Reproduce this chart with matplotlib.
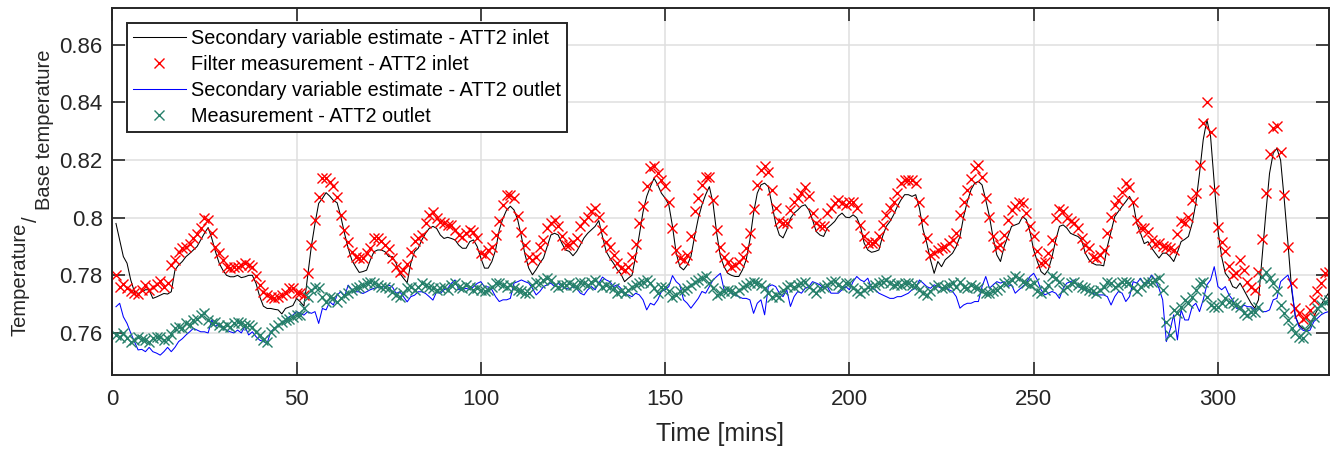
import numpy as np
import matplotlib
matplotlib.use("Agg")
import matplotlib.pyplot as plt

# ---------------------------------------------------------------- data
time_min = np.arange(1, 331)

inlet_meas = [
    0.780, 0.776, 0.777, 0.7755, 0.7745, 0.774, 0.7735, 0.775, 0.7765, 0.775,
    0.776, 0.777, 0.778, 0.776, 0.7775, 0.7836, 0.7853, 0.788, 0.7894, 0.790,
    0.791, 0.7928, 0.7943, 0.7965, 0.7998, 0.7992, 0.7946, 0.7899, 0.7876, 0.7853,
    0.783, 0.7824, 0.7828, 0.783, 0.7836, 0.7842, 0.7836, 0.783, 0.7797, 0.7766,
    0.7743, 0.7731, 0.7726, 0.772, 0.7726, 0.7731, 0.7737, 0.7755, 0.7755, 0.7737,
    0.774, 0.773, 0.7807, 0.7905, 0.7992, 0.8073, 0.8137, 0.8137, 0.8125, 0.811,
    0.8073, 0.8009, 0.7957, 0.7917, 0.788, 0.7865, 0.786, 0.786, 0.7876, 0.7894,
    0.7928, 0.793, 0.792, 0.7905, 0.789, 0.786, 0.783, 0.781, 0.7818, 0.784,
    0.788, 0.792, 0.7928, 0.794, 0.798, 0.8009, 0.802, 0.7998, 0.7986, 0.798,
    0.7975, 0.7975, 0.7957, 0.794, 0.7934, 0.7946, 0.7957, 0.795, 0.7928, 0.7876,
    0.787, 0.7888, 0.790, 0.794, 0.799, 0.8045, 0.808, 0.808, 0.8068, 0.8006,
    0.7952, 0.7906, 0.7865, 0.7854, 0.7865, 0.790, 0.7923, 0.7964, 0.798, 0.7993,
    0.797, 0.7935, 0.7906, 0.7906, 0.7917, 0.793, 0.797, 0.7987, 0.8004, 0.8022,
    0.8033, 0.8004, 0.7958, 0.7917, 0.790, 0.787, 0.7842, 0.7825, 0.782, 0.783,
    0.7865, 0.791, 0.798, 0.804, 0.811, 0.8172, 0.8178, 0.8155, 0.8131, 0.811,
    0.8053, 0.7966, 0.7888, 0.786, 0.7854, 0.787, 0.7935, 0.8022, 0.8068, 0.8114,
    0.8143, 0.8143, 0.8062, 0.7958, 0.790, 0.7865, 0.7848, 0.783, 0.7836, 0.7848,
    0.7865, 0.7894, 0.7946, 0.803, 0.8114, 0.8166, 0.8178, 0.816, 0.8097, 0.8033,
    0.7987, 0.798, 0.798, 0.8027, 0.8056, 0.8068, 0.8085, 0.8108, 0.8074, 0.8016,
    0.798, 0.797, 0.797, 0.8016, 0.8033, 0.805, 0.8062, 0.805, 0.8045, 0.8056,
    0.8056, 0.8033, 0.7975, 0.7935, 0.7912, 0.7912, 0.7917, 0.7935, 0.7975, 0.801,
    0.8033, 0.8056, 0.8085, 0.812, 0.8131, 0.8131, 0.8131, 0.812, 0.8056, 0.7993,
    0.793, 0.787, 0.7877, 0.7888, 0.7894, 0.790, 0.7912, 0.7923, 0.7946, 0.801,
    0.8056, 0.8097, 0.8134, 0.8172, 0.8183, 0.8143, 0.8068, 0.8004, 0.7935, 0.790,
    0.7906, 0.794, 0.7993, 0.8027, 0.804, 0.8056, 0.805, 0.8016, 0.797, 0.7935,
    0.7883, 0.7842, 0.7848, 0.7877, 0.7923, 0.800, 0.803, 0.8022, 0.800, 0.7987,
    0.798, 0.7964, 0.793, 0.7906, 0.7894, 0.7865, 0.786, 0.787, 0.7888, 0.7946,
    0.8002, 0.8045, 0.8062, 0.8091, 0.812, 0.8108, 0.8053, 0.7993, 0.7964, 0.7964,
    0.7952, 0.7923, 0.791, 0.7912, 0.7902, 0.790, 0.7894, 0.7888, 0.7944, 0.7987,
    0.7981, 0.8004, 0.8062, 0.8087, 0.8183, 0.8328, 0.8401, 0.8296, 0.8096, 0.7969,
    0.7917, 0.7885, 0.7831, 0.7801, 0.7807, 0.7853, 0.7819, 0.7778, 0.776, 0.7749,
    0.7813, 0.7925, 0.8085, 0.822, 0.831, 0.8319, 0.8229, 0.8079, 0.790, 0.7772,
    0.7686, 0.7668, 0.7647, 0.7657, 0.768, 0.7715, 0.7744, 0.7772, 0.7807, 0.7813,
]

inlet_est = [
    0.798, 0.7923, 0.7865, 0.7842, 0.7784, 0.7743, 0.7737, 0.7743, 0.775, 0.775,
    0.772, 0.7725, 0.7731, 0.7737, 0.7735, 0.7743, 0.7818, 0.7836, 0.7848, 0.7865,
    0.7876, 0.7888, 0.790, 0.7923, 0.7946, 0.7966, 0.7928, 0.7882, 0.7842, 0.7818,
    0.780, 0.7795, 0.7795, 0.780, 0.7792, 0.7795, 0.780, 0.780, 0.7772, 0.7726,
    0.7693, 0.7685, 0.7685, 0.7682, 0.768, 0.7666, 0.7685, 0.769, 0.7695, 0.772,
    0.7708, 0.7693, 0.7795, 0.790, 0.798, 0.805, 0.8067, 0.8087, 0.8075, 0.806,
    0.8052, 0.8004, 0.7946, 0.7894, 0.7853, 0.783, 0.781, 0.7813, 0.7818, 0.7853,
    0.7882, 0.7888, 0.7888, 0.7882, 0.7865, 0.7865, 0.7842, 0.7807, 0.779, 0.7774,
    0.7842, 0.7882, 0.7894, 0.7923, 0.7946, 0.7963, 0.797, 0.7963, 0.794, 0.7928,
    0.7932, 0.7928, 0.7923, 0.7905, 0.7894, 0.7894, 0.7917, 0.7923, 0.790, 0.786,
    0.7825, 0.7825, 0.7848, 0.7888, 0.7958, 0.7998, 0.8027, 0.804, 0.8027, 0.7993,
    0.7935, 0.7871, 0.7825, 0.7802, 0.782, 0.7842, 0.786, 0.790, 0.794, 0.7946,
    0.794, 0.7911, 0.7888, 0.7883, 0.7868, 0.7883, 0.7906, 0.793, 0.7946, 0.7958,
    0.797, 0.799, 0.7935, 0.7883, 0.786, 0.7842, 0.782, 0.7805, 0.7778, 0.779,
    0.780, 0.7865, 0.794, 0.802, 0.8074, 0.8108, 0.8137, 0.8114, 0.8085, 0.8068,
    0.8045, 0.797, 0.7877, 0.783, 0.7819, 0.7836, 0.7865, 0.7935, 0.7998, 0.8045,
    0.808, 0.8108, 0.805, 0.7946, 0.7865, 0.783, 0.7807, 0.780, 0.7796, 0.7796,
    0.7819, 0.7854, 0.7923, 0.8016, 0.8085, 0.8114, 0.812, 0.8108, 0.8045, 0.798,
    0.794, 0.793, 0.7958, 0.7998, 0.8016, 0.8027, 0.804, 0.8045, 0.8027, 0.7993,
    0.7952, 0.794, 0.7935, 0.7964, 0.7975, 0.7987, 0.8006, 0.8016, 0.8002, 0.800,
    0.801, 0.800, 0.797, 0.7912, 0.7888, 0.788, 0.7883, 0.7888, 0.7935, 0.797,
    0.7987, 0.801, 0.8039, 0.8062, 0.808, 0.808, 0.8074, 0.808, 0.8033, 0.7958,
    0.7912, 0.7854, 0.7807, 0.7848, 0.783, 0.7854, 0.7865, 0.7877, 0.790, 0.7935,
    0.8004, 0.8056, 0.8097, 0.812, 0.8126, 0.8114, 0.8062, 0.8004, 0.793, 0.7871,
    0.7848, 0.790, 0.7935, 0.797, 0.7975, 0.798, 0.8004, 0.7993, 0.7952, 0.7888,
    0.7848, 0.7813, 0.7802, 0.782, 0.7865, 0.7923, 0.797, 0.7975, 0.7964, 0.7946,
    0.794, 0.7935, 0.7923, 0.7877, 0.7854, 0.7842, 0.7836, 0.7836, 0.7833, 0.790,
    0.7952, 0.8004, 0.8022, 0.804, 0.8056, 0.8074, 0.805, 0.798, 0.7946, 0.791,
    0.7917, 0.7895, 0.7877, 0.786, 0.7877, 0.7877, 0.7865, 0.7848, 0.788, 0.7917,
    0.7925, 0.7935, 0.798, 0.805, 0.8154, 0.827, 0.834, 0.8282, 0.812, 0.7958,
    0.7865, 0.7807, 0.779, 0.7761, 0.7755, 0.7773, 0.775, 0.7726, 0.7703, 0.7686,
    0.7715, 0.7865, 0.8016, 0.8154, 0.8224, 0.8241, 0.820, 0.8062, 0.7911, 0.775,
    0.7657, 0.7628, 0.7616, 0.761, 0.7622, 0.7657, 0.768, 0.7697, 0.772, 0.7738,
]

outlet_est = [
    0.7691, 0.7703, 0.7656, 0.7633, 0.760, 0.757, 0.7541, 0.7543, 0.7535, 0.755,
    0.7535, 0.753, 0.7523, 0.7535, 0.755, 0.7535, 0.755, 0.757, 0.758, 0.7593,
    0.7604, 0.7616, 0.761, 0.7604, 0.7604, 0.760, 0.7645, 0.7622, 0.7633, 0.7616,
    0.761, 0.7604, 0.760, 0.761, 0.760, 0.7622, 0.7593, 0.7604, 0.7587, 0.7575,
    0.757, 0.7564, 0.7604, 0.7616, 0.7627, 0.7633, 0.7645, 0.7656, 0.7662, 0.7674,
    0.7668, 0.7662, 0.7674, 0.7668, 0.7674, 0.7633, 0.7685, 0.768, 0.7708, 0.7697,
    0.7732, 0.7743, 0.7726, 0.7766, 0.775, 0.7743, 0.7743, 0.7737, 0.7743, 0.775,
    0.7755, 0.7758, 0.776, 0.776, 0.7766, 0.776, 0.7737, 0.7743, 0.7726, 0.7708,
    0.7726, 0.7731, 0.7743, 0.7743, 0.7737, 0.7726, 0.7714, 0.7743, 0.7737, 0.775,
    0.7755, 0.7772, 0.7784, 0.775, 0.775, 0.7755, 0.775, 0.776, 0.7772, 0.7778,
    0.776, 0.776, 0.775, 0.7726, 0.7709, 0.7715, 0.7715, 0.772, 0.7773, 0.7778,
    0.7784, 0.7778, 0.7773, 0.7755, 0.7732, 0.7744, 0.7761, 0.7767, 0.7773, 0.7761,
    0.7773, 0.7761, 0.7755, 0.7752, 0.7761, 0.7755, 0.7738, 0.7732, 0.775, 0.7761,
    0.775, 0.7773, 0.7794, 0.7784, 0.7778, 0.7761, 0.7767, 0.7755, 0.7732, 0.7732,
    0.7726, 0.7738, 0.7732, 0.7715, 0.768, 0.7703, 0.7697, 0.7715, 0.7744, 0.775,
    0.7761, 0.7799, 0.7778, 0.7767, 0.7715, 0.7703, 0.7686, 0.7703, 0.772, 0.7744,
    0.7738, 0.7761, 0.7784, 0.7796, 0.7807, 0.775, 0.775, 0.7738, 0.7732, 0.7726,
    0.772, 0.772, 0.7715, 0.7668, 0.7703, 0.7715, 0.7663, 0.7761, 0.7767, 0.7761,
    0.7738, 0.7726, 0.775, 0.7692, 0.7726, 0.7744, 0.7738, 0.7755, 0.7761, 0.7778,
    0.7773, 0.7767, 0.7755, 0.7761, 0.7738, 0.7738, 0.7738, 0.775, 0.7761, 0.775,
    0.7778, 0.7796, 0.7784, 0.7778, 0.779, 0.7755, 0.775, 0.7738, 0.7732, 0.7726,
    0.772, 0.772, 0.7726, 0.7726, 0.7732, 0.7738, 0.775, 0.7755, 0.7784, 0.7773,
    0.7761, 0.7755, 0.7767, 0.7761, 0.7755, 0.7761, 0.775, 0.7744, 0.7726, 0.7686,
    0.7697, 0.7703, 0.7703, 0.7709, 0.7709, 0.7761, 0.7796, 0.7755, 0.7767, 0.7778,
    0.7773, 0.7778, 0.7761, 0.7767, 0.7738, 0.775, 0.7761, 0.7773, 0.7796, 0.7807,
    0.7784, 0.775, 0.7732, 0.7738, 0.7744, 0.7738, 0.772, 0.7755, 0.7773, 0.7778,
    0.7784, 0.7761, 0.7755, 0.775, 0.7744, 0.7738, 0.7732, 0.7732, 0.7732, 0.7726,
    0.7697, 0.7726, 0.7744, 0.7738, 0.7709, 0.7726, 0.7778, 0.7773, 0.779, 0.7767,
    0.7778, 0.7801, 0.7784, 0.7755, 0.7715, 0.757, 0.761, 0.7663, 0.7576, 0.768,
    0.7645, 0.7645, 0.7691, 0.7703, 0.7674, 0.7715, 0.7767, 0.7784, 0.783, 0.7761,
    0.775, 0.7761, 0.7732, 0.7715, 0.7686, 0.768, 0.7697, 0.7691, 0.7691, 0.768,
    0.7686, 0.7674, 0.7674, 0.768, 0.7715, 0.772, 0.7778, 0.779, 0.7801, 0.7761,
    0.7657, 0.7622, 0.761, 0.7605, 0.761, 0.7639, 0.7651, 0.7663, 0.767, 0.7674,
]

outlet_meas = [
    0.7593, 0.7587, 0.760, 0.7584, 0.757, 0.7575, 0.7587, 0.758, 0.7575, 0.757,
    0.7581, 0.7585, 0.7587, 0.7575, 0.758, 0.7596, 0.7616, 0.7622, 0.7616, 0.7633,
    0.7628, 0.7645, 0.765, 0.7662, 0.7668, 0.7645, 0.7633, 0.7639, 0.7628, 0.7622,
    0.7628, 0.7622, 0.7633, 0.7639, 0.7633, 0.7628, 0.7628, 0.7622, 0.7604, 0.7593,
    0.7575, 0.757, 0.7604, 0.7616, 0.7627, 0.7639, 0.7645, 0.765, 0.7657, 0.7662,
    0.7662, 0.7685, 0.7726, 0.775, 0.776, 0.7755, 0.7726, 0.7708, 0.7726, 0.772,
    0.7708, 0.772, 0.7732, 0.7737, 0.775, 0.7755, 0.776, 0.7766, 0.7772, 0.7778,
    0.7772, 0.7766, 0.776, 0.7758, 0.7755, 0.7743, 0.7731, 0.7726, 0.7737, 0.7755,
    0.776, 0.7749, 0.776, 0.7772, 0.7766, 0.776, 0.7755, 0.7749, 0.7755, 0.776,
    0.7749, 0.7766, 0.7772, 0.776, 0.7755, 0.7766, 0.776, 0.7749, 0.7755, 0.775,
    0.7744, 0.775, 0.7761, 0.7773, 0.7773, 0.7767, 0.7761, 0.7767, 0.7755, 0.775,
    0.7744, 0.7738, 0.7738, 0.7767, 0.7778, 0.7773, 0.7784, 0.779, 0.7784, 0.7767,
    0.7761, 0.7767, 0.7767, 0.7773, 0.7767, 0.7761, 0.7778, 0.7773, 0.7767, 0.7778,
    0.7784, 0.7773, 0.7761, 0.7767, 0.7761, 0.7755, 0.7738, 0.7744, 0.7738, 0.775,
    0.7761, 0.7767, 0.7773, 0.7778, 0.7784, 0.7773, 0.7755, 0.7738, 0.7761, 0.7761,
    0.7744, 0.7726, 0.7732, 0.7744, 0.775, 0.7755, 0.7767, 0.7778, 0.7784, 0.779,
    0.7796, 0.7773, 0.7755, 0.7732, 0.7738, 0.7744, 0.775, 0.7744, 0.7738, 0.775,
    0.7761, 0.7767, 0.7773, 0.7778, 0.7775, 0.7767, 0.7755, 0.7738, 0.7726, 0.7732,
    0.7726, 0.775, 0.7761, 0.7767, 0.7761, 0.7767, 0.7773, 0.7778, 0.7761, 0.775,
    0.7738, 0.7755, 0.7761, 0.7767, 0.7778, 0.7782, 0.7767, 0.7761, 0.7773, 0.7773,
    0.7755, 0.7744, 0.7738, 0.775, 0.7761, 0.7761, 0.7767, 0.7773, 0.7778, 0.7784,
    0.7773, 0.7767, 0.777, 0.7767, 0.7773, 0.7773, 0.7767, 0.7767, 0.775, 0.7738,
    0.7732, 0.7744, 0.7761, 0.7767, 0.7755, 0.7761, 0.7767, 0.7773, 0.7761, 0.7778,
    0.7761, 0.7755, 0.7767, 0.7761, 0.7755, 0.7744, 0.7738, 0.7738, 0.7744, 0.775,
    0.7761, 0.7773, 0.7778, 0.7784, 0.7796, 0.779, 0.7778, 0.7773, 0.7767, 0.7773,
    0.7744, 0.7738, 0.775, 0.7767, 0.7796, 0.779, 0.7778, 0.775, 0.7761, 0.7773,
    0.7778, 0.7767, 0.7761, 0.7755, 0.775, 0.7744, 0.7738, 0.775, 0.7761, 0.7778,
    0.7773, 0.7761, 0.7767, 0.7778, 0.7778, 0.7773, 0.7755, 0.7744, 0.7761, 0.7773,
    0.7778, 0.7778, 0.7784, 0.779, 0.775, 0.7639, 0.7593, 0.768, 0.7668, 0.7691,
    0.7715, 0.7703, 0.7726, 0.775, 0.7772, 0.7778, 0.7726, 0.7697, 0.7691, 0.7691,
    0.7703, 0.772, 0.7709, 0.7703, 0.7697, 0.7691, 0.7668, 0.7663, 0.7674, 0.7674,
    0.7691, 0.7795, 0.7813, 0.779, 0.7772, 0.7744, 0.7697, 0.7668, 0.7645, 0.7616,
    0.7599, 0.7587, 0.7581, 0.761, 0.7633, 0.7657, 0.7686, 0.7697, 0.7709, 0.7715,
]

legend_labels = [
    "Secondary variable estimate - ATT2 inlet",
    "Filter measurement - ATT2 inlet",
    "Secondary variable estimate - ATT2 outlet",
    "Measurement - ATT2 outlet",
]
x_ticks = [0, 50, 100, 150, 200, 250, 300]
y_ticks = [0.76, 0.78, 0.80, 0.82, 0.84, 0.86]

# ---------------------------------------------------------------- style
plt.rcParams["font.family"] = ["Liberation Sans", "DejaVu Sans"]
TXT = "#262626"
GREEN = "#26806a"

W, H = 1338, 449
fig = plt.figure(figsize=(W / 100, H / 100), dpi=100)
ax_l, ax_r, ax_t, ax_b = 112.3, 1328.5, 8.3, 375.0
ax = fig.add_axes([ax_l / W, 1 - ax_b / H, (ax_r - ax_l) / W, (ax_b - ax_t) / H])

ax.plot(time_min, inlet_est, color="black", lw=0.75, label=legend_labels[0])
ax.plot(time_min, inlet_meas, ls="none", marker="x", ms=6.8, mew=1.0,
        color="#ff0000", label=legend_labels[1])
ax.plot(time_min, outlet_est, color="#0000ff", lw=0.75, label=legend_labels[2])
ax.plot(time_min, outlet_meas, ls="none", marker="x", ms=6.8, mew=1.0,
        color=GREEN, label=legend_labels[3])

ax.set_xlim(0, 330)
ax.set_ylim(0.7454, 0.8727)
ax.set_xticks(x_ticks)
ax.set_yticks(y_ticks)
ax.set_yticklabels([f"{v:g}" for v in y_ticks])

ax.grid(True, color="#dfdfdf", lw=1.1)
ax.set_axisbelow(True)
for s in ax.spines.values():
    s.set_color(TXT)
    s.set_linewidth(1.4)
ax.tick_params(axis="both", which="major", direction="in", length=9.2,
               width=1.2, color=TXT, labelcolor=TXT, labelsize=16,
               top=True, right=True)
ax.tick_params(axis="x", pad=10)
ax.tick_params(axis="y", pad=7)

ax.set_xlabel("Time [mins]", fontsize=18, color=TXT, labelpad=9)

# y label: "Temperature" / "Base temperature" set as a subscript
fs_y = 14.5
fig.text(26 / W, 1 - 336 / H, "Temperature", rotation=90, rotation_mode="anchor",
         ha="left", va="baseline", fontsize=fs_y, color=TXT)
fig.text(37 / W, 1 - 222 / H, "/", rotation=90, rotation_mode="anchor",
         ha="left", va="baseline", fontsize=fs_y, color=TXT)
fig.text(50 / W, 1 - 210 / H, "Base temperature", rotation=90, rotation_mode="anchor",
         ha="left", va="baseline", fontsize=fs_y, color=TXT)

# legend
bx = (127 - ax_l) / (ax_r - ax_l)
by = 1 - (23 - ax_t) / (ax_b - ax_t)
leg = ax.legend(loc="upper left", bbox_to_anchor=(bx, by), borderaxespad=0,
                fontsize=14.3, frameon=True, fancybox=False, framealpha=1,
                edgecolor=TXT, handlelength=2.65, handletextpad=0.25,
                labelspacing=0.36, borderpad=0.3, numpoints=1)
leg.get_frame().set_linewidth(1.4)
for t in leg.get_texts():
    t.set_color("black")

fig.savefig("out.png", dpi=100)
